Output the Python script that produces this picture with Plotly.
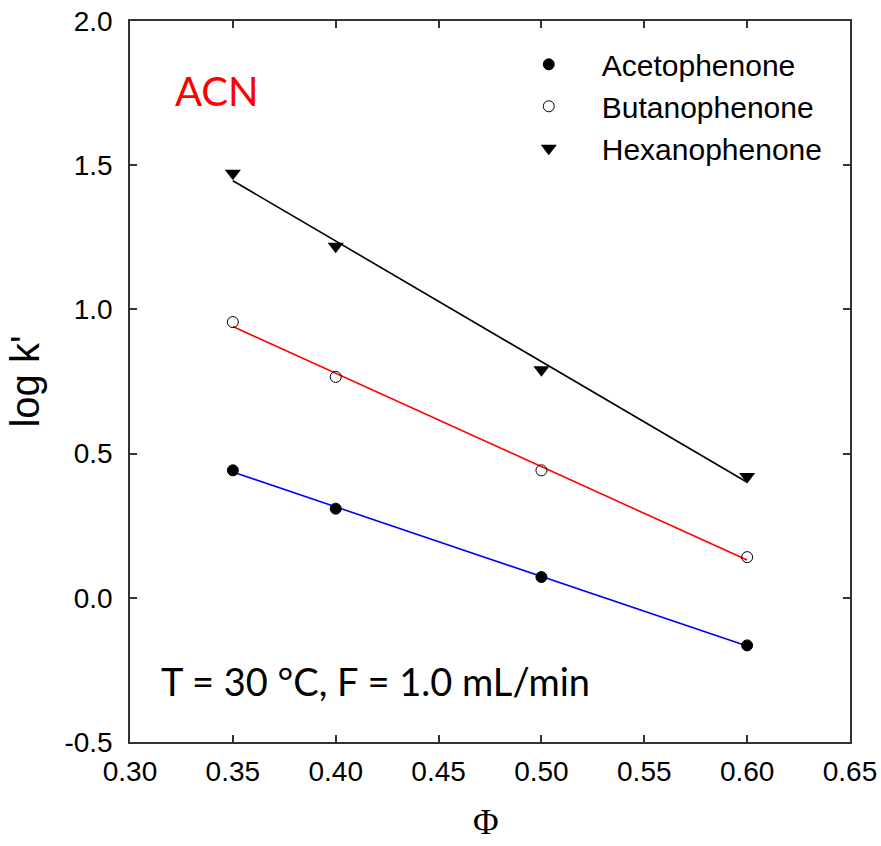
import numpy as np
import plotly.graph_objects as go

# Mobile-phase fraction (ACN) and retention factors
phi = [0.35, 0.40, 0.50, 0.60]
aceto = [0.442, 0.309, 0.072, -0.165]
butano = [0.956, 0.766, 0.442, 0.141]
hexano = [1.472, 1.219, 0.791, 0.421]

x_ticks = [0.30, 0.35, 0.40, 0.45, 0.50, 0.55, 0.60, 0.65]
x_ticktext = ["0.30", "0.35", "0.40", "0.45", "0.50", "0.55", "0.60", "0.65"]
y_ticks = [-0.5, 0.0, 0.5, 1.0, 1.5, 2.0]
y_ticktext = ["-0.5", "0.0", "0.5", "1.0", "1.5", "2.0"]

series = [
    ("Acetophenone", aceto, dict(symbol="circle", size=11, color="black",
                                 line=dict(color="black", width=1)), "blue"),
    ("Butanophenone", butano, dict(symbol="circle-open", size=11, color="black",
                                   line=dict(color="black", width=1)), "red"),
    ("Hexanophenone", hexano, dict(symbol="triangle-down", size=14, color="black",
                                   line=dict(color="black", width=0)), "black"),
]

fig = go.Figure()

# linear regression lines over the measured range
for name, y, marker, lc in series:
    slope, icpt = np.polyfit(phi, y, 1)
    xs = np.array([min(phi), max(phi)])
    fig.add_trace(go.Scatter(x=xs, y=slope * xs + icpt, mode="lines",
                             line=dict(color=lc, width=1.6),
                             showlegend=False, hoverinfo="skip"))

for name, y, marker, lc in series:
    fig.add_trace(go.Scatter(x=phi, y=y, mode="markers", name=name, marker=marker))

axis_common = dict(
    showline=True, linecolor="#333333", linewidth=1.5, mirror="ticks",
    ticks="inside", ticklen=7, tickwidth=1.5, tickcolor="#333333",
    showgrid=False, zeroline=False, automargin=False,
    tickfont=dict(family="Liberation Sans, Arial", size=28, color="black"),
)

fig.update_xaxes(range=[0.30, 0.65], tickvals=x_ticks, ticktext=x_ticktext,
                 ticklabelstandoff=4, **axis_common)
fig.update_yaxes(range=[-0.5, 2.0], tickvals=y_ticks, ticktext=y_ticktext,
                 ticklabelstandoff=10,
                 title=dict(text="log k'", font=dict(family="Liberation Sans, Arial",
                                                     size=40, color="black"), standoff=12),
                 **axis_common)

# x-axis title (Φ) placed below the tick labels
fig.add_annotation(x=0.494, y=-0.141, xref="paper", yref="paper", text="Φ",
                   showarrow=False, xanchor="center", yanchor="bottom",
                   font=dict(family="Liberation Serif, Times New Roman", size=35, color="black"))

fig.add_annotation(x=0.06, y=0.903, xref="paper", yref="paper", text="ACN",
                   showarrow=False, xanchor="left", yanchor="middle",
                   font=dict(family="Lato, Open Sans", size=40, color="red"))
fig.add_annotation(x=0.04, y=0.085, xref="paper", yref="paper",
                   text="T = 30 °C, F = 1.0 mL/min",
                   showarrow=False, xanchor="left", yanchor="middle",
                   font=dict(family="Lato, Open Sans", size=38, color="black"))

fig.update_layout(
    width=881, height=846,
    margin=dict(l=130, r=31, t=21, b=104),
    paper_bgcolor="white", plot_bgcolor="white",
    showlegend=True,
    legend=dict(x=0.508, y=0.976, xanchor="left", yanchor="top",
                bgcolor="rgba(0,0,0,0)", itemwidth=96, tracegroupgap=0,
                font=dict(family="Liberation Sans, Arial", size=30, color="black")),
)

fig.write_html("out.html")
